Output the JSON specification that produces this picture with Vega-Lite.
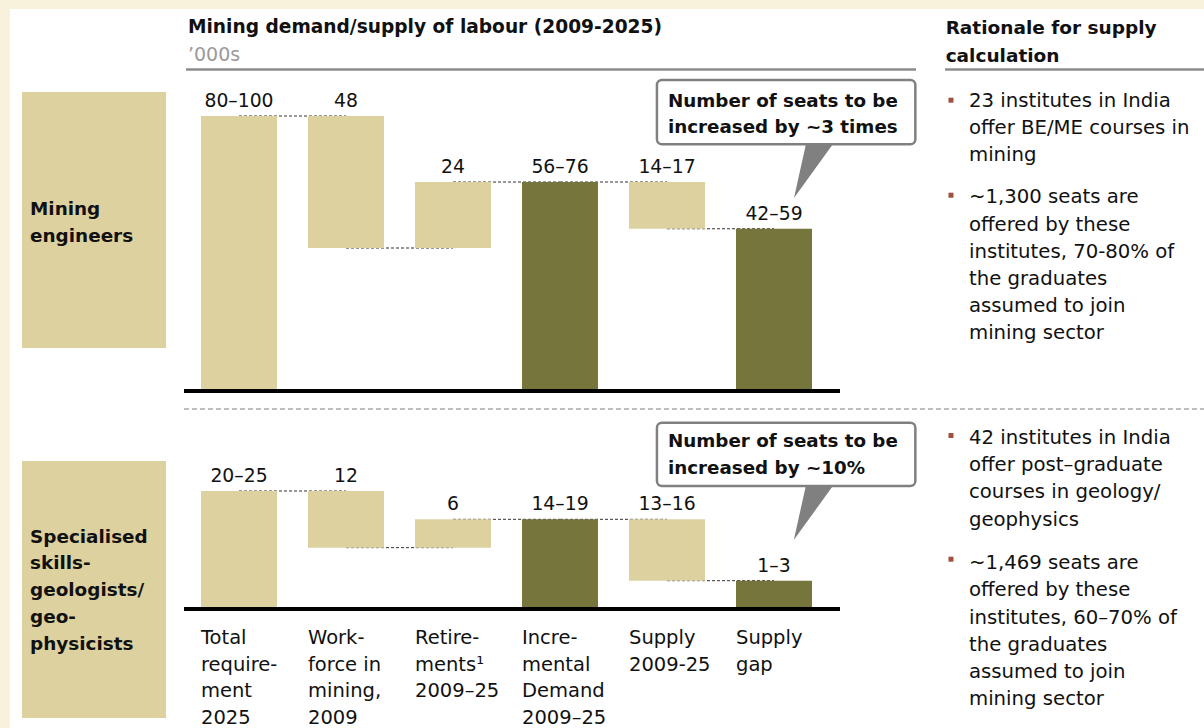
{
  "$schema": "https://vega.github.io/schema/vega-lite/v6.json",
  "width": 1194,
  "height": 719,
  "autosize": {"type": "none"},
  "padding": {"left": 10, "top": 9, "right": 0, "bottom": 0},
  "background": "#f8f1dc",
  "config": {
    "view": {"fill": "#ffffff", "stroke": null},
    "text": {"font": "DejaVu Sans", "fontSize": 19.5, "color": "#111111"}
  },
  "datasets": {
    "header": [{"title": "Mining demand/supply of labour (2009-2025)", "unit": "’000s", "side": "Rationale for supply\ncalculation"}],
    "rows": [
      {"row": 1, "name": "Mining\nengineers", "callout": "Number of seats to be\nincreased by ~3 times"},
      {"row": 2, "name": "Specialised\nskills-\ngeologists/\ngeo-\nphysicists", "callout": "Number of seats to be\nincreased by ~10%"}
    ],
    "rationale": [
      {"row": 1, "item": 1, "text": "23 institutes in India\noffer BE/ME courses in\nmining"},
      {"row": 1, "item": 2, "text": "~1,300 seats are\noffered by these\ninstitutes, 70-80% of\nthe graduates\nassumed to join\nmining sector"},
      {"row": 2, "item": 1, "text": "42 institutes in India\noffer post–graduate\ncourses in geology/\ngeophysics"},
      {"row": 2, "item": 2, "text": "~1,469 seats are\noffered by these\ninstitutes, 60–70% of\nthe graduates\nassumed to join\nmining sector"}
    ],
    "w1": [
      {"order": 1, "step": "Total\nrequire-\nment\n2025", "low": 0, "high": 100, "group": "component", "label": "80–100"},
      {"order": 2, "step": "Work-\nforce in\nmining,\n2009", "low": 52, "high": 100, "group": "component", "label": "48"},
      {"order": 3, "step": "Retire-\nments¹\n2009–25", "low": 52, "high": 76, "group": "component", "label": "24"},
      {"order": 4, "step": "Incre-\nmental\nDemand\n2009–25", "low": 0, "high": 76, "group": "result", "label": "56–76"},
      {"order": 5, "step": "Supply\n2009-25", "low": 59, "high": 76, "group": "component", "label": "14–17"},
      {"order": 6, "step": "Supply\ngap", "low": 0, "high": 59, "group": "result", "label": "42–59"}
    ],
    "w2": [
      {"order": 1, "step": "Total\nrequire-\nment\n2025", "low": 0, "high": 25, "group": "component", "label": "20–25"},
      {"order": 2, "step": "Work-\nforce in\nmining,\n2009", "low": 13, "high": 25, "group": "component", "label": "12"},
      {"order": 3, "step": "Retire-\nments¹\n2009–25", "low": 13, "high": 19, "group": "component", "label": "6"},
      {"order": 4, "step": "Incre-\nmental\nDemand\n2009–25", "low": 0, "high": 19, "group": "result", "label": "14–19"},
      {"order": 5, "step": "Supply\n2009-25", "low": 6, "high": 19, "group": "component", "label": "13–16"},
      {"order": 6, "step": "Supply\ngap", "low": 0, "high": 6, "group": "result", "label": "1–3"}
    ],
    "c1": [
      {"from": 1, "to": 2, "level": 100},
      {"from": 2, "to": 3, "level": 52},
      {"from": 3, "to": 4, "level": 76},
      {"from": 4, "to": 5, "level": 76},
      {"from": 5, "to": 6, "level": 59}
    ],
    "c2": [
      {"from": 1, "to": 2, "level": 25},
      {"from": 2, "to": 3, "level": 13},
      {"from": 3, "to": 4, "level": 19},
      {"from": 4, "to": 5, "level": 19},
      {"from": 5, "to": 6, "level": 6}
    ]
  },
  "resolve": {"scale": {"y": "independent"}},
  "layer": [
    {
      "layer": [
        {
          "data": {"name": "rows"},
          "transform": [{"filter": "datum.row === 1"}],
          "mark": {"type": "rect", "color": "#ddd1a0"},
          "encoding": {
            "x": {"datum": -1.028, "type": "quantitative", "scale": {"domain": [0.5, 6.5], "range": [175.5, 817.5], "nice": false, "zero": false, "padding": 0}, "axis": null},
            "x2": {"datum": 0.318},
            "y": {"datum": 108.73, "type": "quantitative", "scale": {"domain": [0, 100], "range": [382, 107], "nice": false, "zero": false}, "axis": null},
            "y2": {"datum": 15.64}
          }
        },
        {
          "data": {"name": "rows"},
          "transform": [{"filter": "datum.row === 1"}],
          "mark": {"type": "text", "align": "left", "baseline": "alphabetic", "fontWeight": "bold", "fontSize": 18.4, "lineBreak": "\n", "lineHeight": 27},
          "encoding": {
            "x": {"datum": -0.953, "type": "quantitative", "scale": {"domain": [0.5, 6.5], "range": [175.5, 817.5], "nice": false, "zero": false, "padding": 0}, "axis": null},
            "y": {"datum": 64.0, "type": "quantitative", "scale": {"domain": [0, 100], "range": [382, 107], "nice": false, "zero": false}, "axis": null},
            "text": {"field": "name"}
          }
        },
        {
          "data": {"name": "header"},
          "mark": {"type": "text", "align": "left", "baseline": "alphabetic", "fontWeight": "bold", "fontSize": 18.6},
          "encoding": {
            "x": {"datum": 0.523, "type": "quantitative", "scale": {"domain": [0.5, 6.5], "range": [175.5, 817.5], "nice": false, "zero": false, "padding": 0}, "axis": null},
            "y": {"datum": 130.18, "type": "quantitative", "scale": {"domain": [0, 100], "range": [382, 107], "nice": false, "zero": false}, "axis": null},
            "text": {"field": "title"}
          }
        },
        {
          "data": {"name": "header"},
          "mark": {"type": "text", "align": "left", "baseline": "alphabetic", "fontSize": 19, "color": "#9a9a9a"},
          "encoding": {
            "x": {"datum": 0.523, "type": "quantitative", "scale": {"domain": [0.5, 6.5], "range": [175.5, 817.5], "nice": false, "zero": false, "padding": 0}, "axis": null},
            "y": {"datum": 120.0, "type": "quantitative", "scale": {"domain": [0, 100], "range": [382, 107], "nice": false, "zero": false}, "axis": null},
            "text": {"field": "unit"}
          }
        },
        {
          "data": {"name": "header"},
          "mark": {"type": "text", "align": "left", "baseline": "alphabetic", "fontWeight": "bold", "fontSize": 18.5, "lineBreak": "\n", "lineHeight": 28},
          "encoding": {
            "x": {"datum": 7.604, "type": "quantitative", "scale": {"domain": [0.5, 6.5], "range": [175.5, 817.5], "nice": false, "zero": false, "padding": 0}, "axis": null},
            "y": {"datum": 129.8, "type": "quantitative", "scale": {"domain": [0, 100], "range": [382, 107], "nice": false, "zero": false}, "axis": null},
            "text": {"field": "side"}
          }
        },
        {
          "data": {"name": "header"},
          "mark": {"type": "rule", "color": "#8c8c8c", "strokeWidth": 2.5},
          "encoding": {
            "x": {"datum": 0.505, "type": "quantitative", "scale": {"domain": [0.5, 6.5], "range": [175.5, 817.5], "nice": false, "zero": false, "padding": 0}, "axis": null},
            "x2": {"datum": 7.327},
            "y": {"datum": 116.9, "type": "quantitative", "scale": {"domain": [0, 100], "range": [382, 107], "nice": false, "zero": false}, "axis": null}
          }
        },
        {
          "data": {"name": "header"},
          "mark": {"type": "rule", "color": "#8c8c8c", "strokeWidth": 2.5},
          "encoding": {
            "x": {"datum": 7.598, "type": "quantitative", "scale": {"domain": [0.5, 6.5], "range": [175.5, 817.5], "nice": false, "zero": false, "padding": 0}, "axis": null},
            "x2": {"datum": 10.03},
            "y": {"datum": 116.9, "type": "quantitative", "scale": {"domain": [0, 100], "range": [382, 107], "nice": false, "zero": false}, "axis": null}
          }
        },
        {
          "data": {"name": "header"},
          "mark": {"type": "rule", "color": "#ababab", "strokeWidth": 1.5, "strokeDash": [5, 3]},
          "encoding": {
            "x": {"datum": 0.486, "type": "quantitative", "scale": {"domain": [0.5, 6.5], "range": [175.5, 817.5], "nice": false, "zero": false, "padding": 0}, "axis": null},
            "x2": {"datum": 10.03},
            "y": {"datum": -6.55, "type": "quantitative", "scale": {"domain": [0, 100], "range": [382, 107], "nice": false, "zero": false}, "axis": null}
          }
        },
        {
          "data": {"name": "c1"},
          "mark": {"type": "rule", "color": "#333333", "strokeWidth": 1, "strokeDash": [3, 2]},
          "encoding": {
            "x": {"field": "from", "type": "quantitative", "scale": {"domain": [0.5, 6.5], "range": [175.5, 817.5], "nice": false, "zero": false, "padding": 0}, "axis": null},
            "x2": {"field": "to"},
            "y": {"field": "level", "type": "quantitative", "scale": {"domain": [0, 100], "range": [382, 107], "nice": false, "zero": false}, "axis": null}
          }
        },
        {
          "data": {"name": "w1"},
          "mark": {"type": "bar", "width": 76},
          "encoding": {
            "x": {"field": "order", "type": "quantitative", "scale": {"domain": [0.5, 6.5], "range": [175.5, 817.5], "nice": false, "zero": false, "padding": 0}, "axis": null},
            "y": {"field": "high", "type": "quantitative", "scale": {"domain": [0, 100], "range": [382, 107], "nice": false, "zero": false}, "axis": null},
            "y2": {"field": "low"},
            "color": {"field": "group", "type": "nominal", "scale": {"domain": ["component", "result"], "range": ["#ddd1a0", "#76753c"]}, "legend": null}
          }
        },
        {
          "data": {"name": "w1"},
          "mark": {"type": "text", "align": "center", "baseline": "alphabetic", "dy": -9, "fontSize": 18.8},
          "encoding": {
            "x": {"field": "order", "type": "quantitative", "scale": {"domain": [0.5, 6.5], "range": [175.5, 817.5], "nice": false, "zero": false, "padding": 0}, "axis": null},
            "y": {"field": "high", "type": "quantitative", "scale": {"domain": [0, 100], "range": [382, 107], "nice": false, "zero": false}, "axis": null},
            "text": {"field": "label"}
          }
        },
        {
          "data": {"name": "rows"},
          "transform": [{"filter": "datum.row === 1"}],
          "mark": {"type": "rule", "color": "#000000", "strokeWidth": 4},
          "encoding": {
            "x": {"datum": 0.486, "type": "quantitative", "scale": {"domain": [0.5, 6.5], "range": [175.5, 817.5], "nice": false, "zero": false, "padding": 0}, "axis": null},
            "x2": {"datum": 6.617},
            "y": {"datum": 0, "type": "quantitative", "scale": {"domain": [0, 100], "range": [382, 107], "nice": false, "zero": false}, "axis": null}
          }
        },
        {
          "data": {"name": "rows"},
          "transform": [{"filter": "datum.row === 1"}],
          "mark": {"type": "rect", "fill": "#ffffff", "stroke": "#808080", "strokeWidth": 2.5, "cornerRadius": 5},
          "encoding": {
            "x": {"datum": 4.906, "type": "quantitative", "scale": {"domain": [0.5, 6.5], "range": [175.5, 817.5], "nice": false, "zero": false, "padding": 0}, "axis": null},
            "x2": {"datum": 7.321},
            "y": {"datum": 113.09, "type": "quantitative", "scale": {"domain": [0, 100], "range": [382, 107], "nice": false, "zero": false}, "axis": null},
            "y2": {"datum": 89.71}
          }
        },
        {
          "data": {"name": "rows"},
          "transform": [{"filter": "datum.row === 1"}],
          "mark": {"type": "point", "shape": "M-0.278,-1L0.722,-1L-0.722,1Z", "filled": true, "color": "#808080", "opacity": 1, "size": 2916, "strokeWidth": 0},
          "encoding": {
            "x": {"datum": 6.369, "type": "quantitative", "scale": {"domain": [0.5, 6.5], "range": [175.5, 817.5], "nice": false, "zero": false, "padding": 0}, "axis": null},
            "y": {"datum": 80.0, "type": "quantitative", "scale": {"domain": [0, 100], "range": [382, 107], "nice": false, "zero": false}, "axis": null}
          }
        },
        {
          "data": {"name": "rows"},
          "transform": [{"filter": "datum.row === 1"}],
          "mark": {"type": "text", "align": "left", "baseline": "alphabetic", "fontWeight": "bold", "fontSize": 18.3, "lineBreak": "\n", "lineHeight": 26.7},
          "encoding": {
            "x": {"datum": 5.009, "type": "quantitative", "scale": {"domain": [0.5, 6.5], "range": [175.5, 817.5], "nice": false, "zero": false, "padding": 0}, "axis": null},
            "y": {"datum": 103.4, "type": "quantitative", "scale": {"domain": [0, 100], "range": [382, 107], "nice": false, "zero": false}, "axis": null},
            "text": {"field": "callout"}
          }
        },
        {
          "data": {"name": "rationale"},
          "transform": [{"filter": "datum.row === 1 && datum.item === 1"}],
          "layer": [
            {
              "mark": {"type": "text", "align": "left", "baseline": "alphabetic", "fontSize": 19.7, "lineBreak": "\n", "lineHeight": 27.2},
              "encoding": {
                "x": {"datum": 7.822, "type": "quantitative", "scale": {"domain": [0.5, 6.5], "range": [175.5, 817.5], "nice": false, "zero": false, "padding": 0}, "axis": null},
                "y": {"datum": 103.4, "type": "quantitative", "scale": {"domain": [0, 100], "range": [382, 107], "nice": false, "zero": false}, "axis": null},
                "text": {"field": "text"}
              }
            },
            {
              "mark": {"type": "point", "shape": "square", "filled": true, "color": "#a0503c", "opacity": 1, "size": 25},
              "encoding": {
                "x": {"datum": 7.654, "type": "quantitative", "scale": {"domain": [0.5, 6.5], "range": [175.5, 817.5], "nice": false, "zero": false, "padding": 0}, "axis": null},
                "y": {"datum": 105.75, "type": "quantitative", "scale": {"domain": [0, 100], "range": [382, 107], "nice": false, "zero": false}, "axis": null}
              }
            }
          ]
        },
        {
          "data": {"name": "rationale"},
          "transform": [{"filter": "datum.row === 1 && datum.item === 2"}],
          "layer": [
            {
              "mark": {"type": "text", "align": "left", "baseline": "alphabetic", "fontSize": 19.7, "lineBreak": "\n", "lineHeight": 27.2},
              "encoding": {
                "x": {"datum": 7.822, "type": "quantitative", "scale": {"domain": [0.5, 6.5], "range": [175.5, 817.5], "nice": false, "zero": false, "padding": 0}, "axis": null},
                "y": {"datum": 68.25, "type": "quantitative", "scale": {"domain": [0, 100], "range": [382, 107], "nice": false, "zero": false}, "axis": null},
                "text": {"field": "text"}
              }
            },
            {
              "mark": {"type": "point", "shape": "square", "filled": true, "color": "#a0503c", "opacity": 1, "size": 25},
              "encoding": {
                "x": {"datum": 7.654, "type": "quantitative", "scale": {"domain": [0.5, 6.5], "range": [175.5, 817.5], "nice": false, "zero": false, "padding": 0}, "axis": null},
                "y": {"datum": 71.2, "type": "quantitative", "scale": {"domain": [0, 100], "range": [382, 107], "nice": false, "zero": false}, "axis": null}
              }
            }
          ]
        }
      ]
    },
    {
      "layer": [
        {
          "data": {"name": "rows"},
          "transform": [{"filter": "datum.row === 2"}],
          "mark": {"type": "rect", "color": "#ddd1a0"},
          "encoding": {
            "x": {"datum": -1.028, "type": "quantitative", "scale": {"domain": [0.5, 6.5], "range": [175.5, 817.5], "nice": false, "zero": false, "padding": 0}, "axis": null},
            "x2": {"datum": 0.318},
            "y": {"datum": 31.36, "type": "quantitative", "scale": {"domain": [0, 25], "range": [600, 482], "nice": false, "zero": false}, "axis": null},
            "y2": {"datum": -23.09}
          }
        },
        {
          "data": {"name": "rows"},
          "transform": [{"filter": "datum.row === 2"}],
          "mark": {"type": "text", "align": "left", "baseline": "alphabetic", "fontWeight": "bold", "fontSize": 18.4, "lineBreak": "\n", "lineHeight": 26.8},
          "encoding": {
            "x": {"datum": -0.953, "type": "quantitative", "scale": {"domain": [0.5, 6.5], "range": [175.5, 817.5], "nice": false, "zero": false, "padding": 0}, "axis": null},
            "y": {"datum": 14.05, "type": "quantitative", "scale": {"domain": [0, 25], "range": [600, 482], "nice": false, "zero": false}, "axis": null},
            "text": {"field": "name"}
          }
        },
        {
          "data": {"name": "c2"},
          "mark": {"type": "rule", "color": "#333333", "strokeWidth": 1, "strokeDash": [3, 2]},
          "encoding": {
            "x": {"field": "from", "type": "quantitative", "scale": {"domain": [0.5, 6.5], "range": [175.5, 817.5], "nice": false, "zero": false, "padding": 0}, "axis": null},
            "x2": {"field": "to"},
            "y": {"field": "level", "type": "quantitative", "scale": {"domain": [0, 25], "range": [600, 482], "nice": false, "zero": false}, "axis": null}
          }
        },
        {
          "data": {"name": "w2"},
          "mark": {"type": "bar", "width": 76},
          "encoding": {
            "x": {"field": "order", "type": "quantitative", "scale": {"domain": [0.5, 6.5], "range": [175.5, 817.5], "nice": false, "zero": false, "padding": 0}, "axis": null},
            "y": {"field": "high", "type": "quantitative", "scale": {"domain": [0, 25], "range": [600, 482], "nice": false, "zero": false}, "axis": null},
            "y2": {"field": "low"},
            "color": {"field": "group", "type": "nominal", "scale": {"domain": ["component", "result"], "range": ["#ddd1a0", "#76753c"]}, "legend": null}
          }
        },
        {
          "data": {"name": "w2"},
          "mark": {"type": "text", "align": "center", "baseline": "alphabetic", "dy": -9, "fontSize": 18.8},
          "encoding": {
            "x": {"field": "order", "type": "quantitative", "scale": {"domain": [0.5, 6.5], "range": [175.5, 817.5], "nice": false, "zero": false, "padding": 0}, "axis": null},
            "y": {"field": "high", "type": "quantitative", "scale": {"domain": [0, 25], "range": [600, 482], "nice": false, "zero": false}, "axis": null},
            "text": {"field": "label"}
          }
        },
        {
          "data": {"name": "w2"},
          "mark": {"type": "text", "align": "left", "baseline": "alphabetic", "dx": -38, "dy": 35, "fontSize": 19.5, "lineBreak": "\n", "lineHeight": 26.5},
          "encoding": {
            "x": {"field": "order", "type": "quantitative", "scale": {"domain": [0.5, 6.5], "range": [175.5, 817.5], "nice": false, "zero": false, "padding": 0}, "axis": null},
            "y": {"datum": 0, "type": "quantitative", "scale": {"domain": [0, 25], "range": [600, 482], "nice": false, "zero": false}, "axis": null},
            "text": {"field": "step"}
          }
        },
        {
          "data": {"name": "rows"},
          "transform": [{"filter": "datum.row === 2"}],
          "mark": {"type": "rule", "color": "#000000", "strokeWidth": 4},
          "encoding": {
            "x": {"datum": 0.486, "type": "quantitative", "scale": {"domain": [0.5, 6.5], "range": [175.5, 817.5], "nice": false, "zero": false, "padding": 0}, "axis": null},
            "x2": {"datum": 6.617},
            "y": {"datum": 0, "type": "quantitative", "scale": {"domain": [0, 25], "range": [600, 482], "nice": false, "zero": false}, "axis": null}
          }
        },
        {
          "data": {"name": "rows"},
          "transform": [{"filter": "datum.row === 2"}],
          "mark": {"type": "rect", "fill": "#ffffff", "stroke": "#808080", "strokeWidth": 2.5, "cornerRadius": 5},
          "encoding": {
            "x": {"datum": 4.906, "type": "quantitative", "scale": {"domain": [0.5, 6.5], "range": [175.5, 817.5], "nice": false, "zero": false, "padding": 0}, "axis": null},
            "x2": {"datum": 7.321},
            "y": {"datum": 39.47, "type": "quantitative", "scale": {"domain": [0, 25], "range": [600, 482], "nice": false, "zero": false}, "axis": null},
            "y2": {"datum": 26.06}
          }
        },
        {
          "data": {"name": "rows"},
          "transform": [{"filter": "datum.row === 2"}],
          "mark": {"type": "point", "shape": "M-0.278,-1L0.722,-1L-0.722,1Z", "filled": true, "color": "#808080", "opacity": 1, "size": 2809, "strokeWidth": 0},
          "encoding": {
            "x": {"datum": 6.364, "type": "quantitative", "scale": {"domain": [0.5, 6.5], "range": [175.5, 817.5], "nice": false, "zero": false, "padding": 0}, "axis": null},
            "y": {"datum": 20.23, "type": "quantitative", "scale": {"domain": [0, 25], "range": [600, 482], "nice": false, "zero": false}, "axis": null}
          }
        },
        {
          "data": {"name": "rows"},
          "transform": [{"filter": "datum.row === 2"}],
          "mark": {"type": "text", "align": "left", "baseline": "alphabetic", "fontWeight": "bold", "fontSize": 18.3, "lineBreak": "\n", "lineHeight": 26.7},
          "encoding": {
            "x": {"datum": 5.009, "type": "quantitative", "scale": {"domain": [0.5, 6.5], "range": [175.5, 817.5], "nice": false, "zero": false, "padding": 0}, "axis": null},
            "y": {"datum": 34.3, "type": "quantitative", "scale": {"domain": [0, 25], "range": [600, 482], "nice": false, "zero": false}, "axis": null},
            "text": {"field": "callout"}
          }
        },
        {
          "data": {"name": "rationale"},
          "transform": [{"filter": "datum.row === 2 && datum.item === 1"}],
          "layer": [
            {
              "mark": {"type": "text", "align": "left", "baseline": "alphabetic", "fontSize": 19.7, "lineBreak": "\n", "lineHeight": 27.2},
              "encoding": {
                "x": {"datum": 7.822, "type": "quantitative", "scale": {"domain": [0.5, 6.5], "range": [175.5, 817.5], "nice": false, "zero": false, "padding": 0}, "axis": null},
                "y": {"datum": 34.96, "type": "quantitative", "scale": {"domain": [0, 25], "range": [600, 482], "nice": false, "zero": false}, "axis": null},
                "text": {"field": "text"}
              }
            },
            {
              "mark": {"type": "point", "shape": "square", "filled": true, "color": "#a0503c", "opacity": 1, "size": 25},
              "encoding": {
                "x": {"datum": 7.654, "type": "quantitative", "scale": {"domain": [0.5, 6.5], "range": [175.5, 817.5], "nice": false, "zero": false, "padding": 0}, "axis": null},
                "y": {"datum": 36.76, "type": "quantitative", "scale": {"domain": [0, 25], "range": [600, 482], "nice": false, "zero": false}, "axis": null}
              }
            }
          ]
        },
        {
          "data": {"name": "rationale"},
          "transform": [{"filter": "datum.row === 2 && datum.item === 2"}],
          "layer": [
            {
              "mark": {"type": "text", "align": "left", "baseline": "alphabetic", "fontSize": 19.7, "lineBreak": "\n", "lineHeight": 27.2},
              "encoding": {
                "x": {"datum": 7.822, "type": "quantitative", "scale": {"domain": [0.5, 6.5], "range": [175.5, 817.5], "nice": false, "zero": false, "padding": 0}, "axis": null},
                "y": {"datum": 8.41, "type": "quantitative", "scale": {"domain": [0, 25], "range": [600, 482], "nice": false, "zero": false}, "axis": null},
                "text": {"field": "text"}
              }
            },
            {
              "mark": {"type": "point", "shape": "square", "filled": true, "color": "#a0503c", "opacity": 1, "size": 25},
              "encoding": {
                "x": {"datum": 7.654, "type": "quantitative", "scale": {"domain": [0.5, 6.5], "range": [175.5, 817.5], "nice": false, "zero": false, "padding": 0}, "axis": null},
                "y": {"datum": 10.55, "type": "quantitative", "scale": {"domain": [0, 25], "range": [600, 482], "nice": false, "zero": false}, "axis": null}
              }
            }
          ]
        }
      ]
    }
  ]
}
